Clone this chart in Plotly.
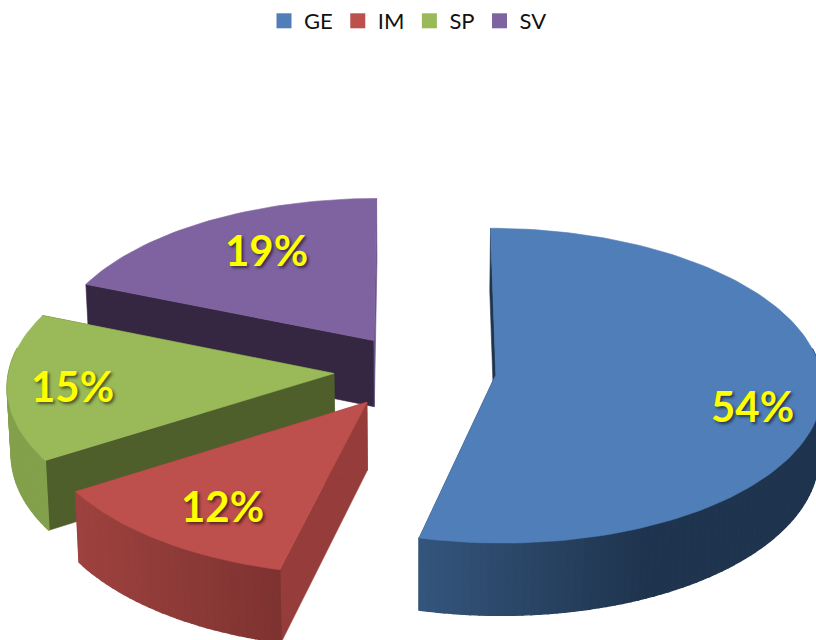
import math
import plotly.graph_objects as go

categories = ["GE", "IM", "SP", "SV"]
shares = [53.8, 12.2, 15.2, 18.8]
pulls = [0.25, 0.25, 0.25, 0.23]
top_colors = ["#4F7EB8", "#BD4F4C", "#9AB959", "#7F63A0"]
side_left = ["#34567D", "#9E423F", "#83A04C", "#6B5488"]
side_right = ["#1F344E", "#7E3331", "#83A04C", "#5A4675"]
start_face = ["#1F344E", "#963C3A", "#4F5F2B", "#352742"]
end_face = ["#1F344E", "#963C3A", "#4F5F2B", "#6B5488"]
draw_order = [3, 0, 2, 1]
label_xy = [(752, 406), (222, 506), (72, 386), (266, 250)]

CX, CY, RX, RY, P, DEPTH, BOTTOM_X = 415, 370, 325, 156, 0.07, 67, 0.99


def project(X, Y, low=False):
    w = 1 + P * Y
    x = RX * X / w
    y = -RY * Y / w
    if low:
        return CX + x * BOTTOM_X, CY + y + DEPTH / w
    return CX + x, CY + y


def disc(angle, r, ox, oy):
    return ox + r * math.sin(angle), oy + r * math.cos(angle)


def poly(points, color, width=0.6):
    xs = [p[0] for p in points] + [points[0][0]]
    ys = [p[1] for p in points] + [points[0][1]]
    return go.Scatter(x=xs, y=ys, mode="lines", fill="toself", fillcolor=color,
                      line=dict(color=color, width=width), hoverinfo="skip",
                      showlegend=False)


def mix(c1, c2, t):
    a = [int(c1[i:i + 2], 16) for i in (1, 3, 5)]
    b = [int(c2[i:i + 2], 16) for i in (1, 3, 5)]
    return "#%02X%02X%02X" % tuple(round(u + (v - u) * t) for u, v in zip(a, b))


total = sum(shares)
bounds = [0]
for s in shares:
    bounds.append(bounds[-1] + s / total * 2 * math.pi)

fig = go.Figure()
for i in draw_order:
    a0, a1 = bounds[i], bounds[i + 1]
    mid = (a0 + a1) / 2
    ox, oy = pulls[i] * math.sin(mid), pulls[i] * math.cos(mid)
    n = max(12, int((a1 - a0) * 40))
    arc = [a0 + (a1 - a0) * k / n for k in range(n + 1)]
    for a, col in ((a0, start_face[i]), (a1, end_face[i])):
        q = disc(a, 1, ox, oy)
        fig.add_trace(poly([project(ox, oy), project(*q), project(*q, low=True),
                            project(ox, oy, low=True)], col))
    xs_all = [project(*disc(a, 1, ox, oy))[0] for a in arc]
    xmin = min(xs_all)
    span = 230 if i == 0 else max(1, max(xs_all) - xmin)
    for k in range(n):
        pa, pb = disc(arc[k], 1, ox, oy), disc(arc[k + 1], 1, ox, oy)
        if pa[1] > oy + 0.15 and pb[1] > oy + 0.15:
            continue
        t = min(1, max(0, (project(*pa)[0] - xmin) / span))
        fig.add_trace(poly([project(*pa), project(*pb), project(*pb, low=True),
                            project(*pa, low=True)], mix(side_left[i], side_right[i], t), 1.5))
    top = [project(ox, oy)] + [project(*disc(a, 1, ox, oy)) for a in arc]
    fig.add_trace(poly(top, top_colors[i]))

for name, col in zip(categories, top_colors):
    fig.add_trace(go.Scatter(x=[None], y=[None], mode="markers", name=name,
                             marker=dict(symbol="square", size=15, color=col)))

annotations = [dict(x=x, y=y, text=f"{round(s)}%", showarrow=False, xref="x", yref="y",
                    font=dict(family="Lato", size=42, color="#FFFF00", weight="bold",
                              shadow="2px 2px 3px rgba(0,0,0,0.55)"))
               for s, (x, y) in zip(shares, label_xy)]

fig.update_layout(
    width=816, height=640, margin=dict(l=0, r=0, t=0, b=0),
    paper_bgcolor="white", plot_bgcolor="white",
    xaxis=dict(range=[0, 816], visible=False, fixedrange=True),
    yaxis=dict(range=[640, 0], visible=False, fixedrange=True),
    legend=dict(orientation="h", x=0.5, xanchor="center", y=1.0, yanchor="top",
                font=dict(family="Lato", size=22, color="#111111"),
                itemwidth=30),
    annotations=annotations,
)
fig.write_html("out.html", post_script="document.body.style.margin='0';",
               config=dict(displayModeBar=False))
